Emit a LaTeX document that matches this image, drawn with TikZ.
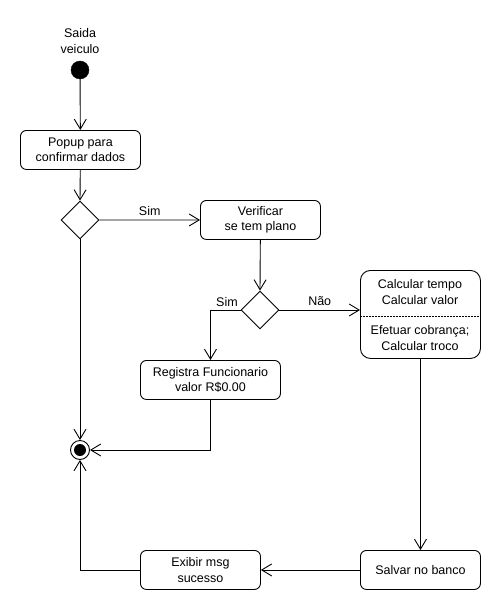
\documentclass[tikz,border=0pt]{standalone}
\usepackage{fontspec}
\setmainfont{Liberation Sans}
\usetikzlibrary{arrows.meta,shapes.geometric}
\begin{document}
\begin{tikzpicture}[x=1pt,y=-1pt,
  every node/.style={font=\fontsize{12.5}{15.5}\selectfont, inner sep=0pt},
  act/.style={draw, line width=0.9pt, rounded corners=6pt, align=center, minimum height=39pt, anchor=north west},
  dec/.style={draw, line width=0.9pt, diamond, minimum width=38pt, minimum height=38pt},
  flow/.style={line width=0.9pt, -{Straight Barb[length=10pt,width=12pt,line width=0.9pt]}},
  lbl/.style={font=\fontsize{12.5}{15.5}\selectfont}
]
\useasboundingbox (0,0) rectangle (500,610);
\node[lbl, align=center] (title) at (80,41) {Saida\\veiculo};
\node[circle, fill=black, draw, minimum size=18pt] (start) at (80,70) {};
\node[act, minimum width=120pt] (popup) at (20,130) {Popup para\\confirmar dados};
\node[dec] (d1) at (80,220) {};
\node[act, minimum width=120pt] (verif) at (200,200) {Verificar\\se tem plano};
\node[dec] (d2) at (260,310) {};
\node[draw, line width=0.9pt, rounded corners=10pt, minimum width=120pt, minimum height=88pt, anchor=north west] (calc) at (360,270) {};
\node[lbl, align=center] (calc1) at (420,292) {Calcular tempo\\Calcular valor};
\node[lbl, align=center] (calc2) at (420,338) {Efetuar cobrança;\\Calcular troco};
\coordinate (dl) at (360,316);
\coordinate (dr) at (480,316);
\draw[line width=0.8pt, dash pattern=on 2pt off 1pt] (dl) -- (dr);
\node[act, minimum width=140pt] (reg) at (140,360) {Registra Funcionario\\valor R\$0.00};
\node[circle, draw, line width=0.9pt, minimum size=19pt] (endo) at (80,450) {};
\node[circle, fill=black, minimum size=12pt] (endi) at (80,450) {};
\node[act, minimum width=120pt] (salvar) at (360,550) {Salvar no banco};
\node[act, minimum width=120pt] (exibir) at (140,550) {Exibir msg\\sucesso};

\draw[flow] (start) -- (popup);
\draw[flow] (popup) -- (d1.north);
\draw[flow] (d1.east) -- node[above=4pt, lbl] (s1) {Sim} (verif.west);
\draw[flow] (verif) -- (d2.north);
\draw[flow] (d2.east) -- node[above=4pt, lbl] (n1) {Não} (calc.west |- d2.east);
\draw[flow] (d2.west) -| (reg.north);
\node[lbl] (s2) at (227,302) {Sim};
\draw[flow] (d1.south) -- (endo.north);
\draw[flow] (reg.south) |- (endo.east);
\draw[flow] (calc.south) -- (salvar.north);
\draw[flow] (salvar.west) -- (exibir.east);
\draw[flow] (exibir.west) -| (endo.south);
\end{tikzpicture}
\end{document}
